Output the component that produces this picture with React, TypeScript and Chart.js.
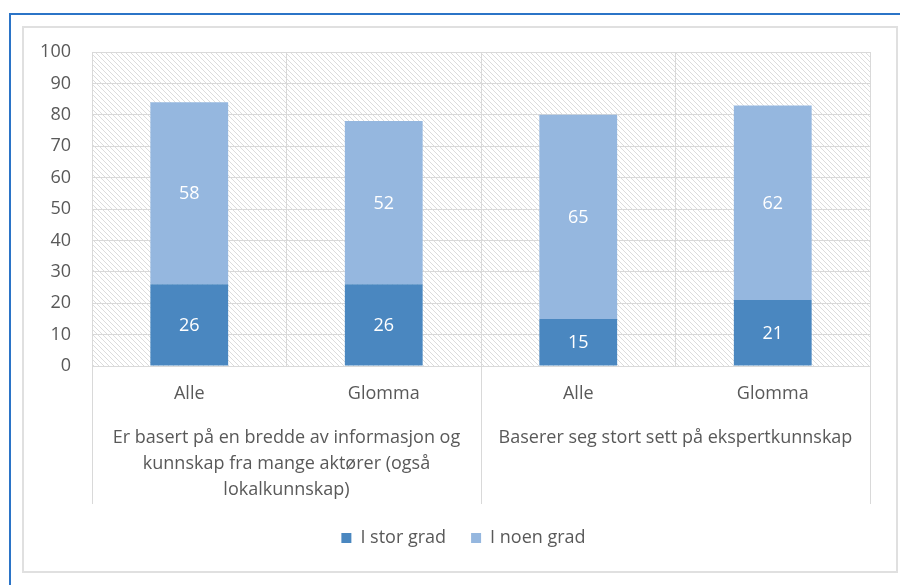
import { useEffect, useRef } from 'react';
import { Chart, registerables } from 'chart.js';
Chart.register(...registerables);

const categories = ['Alle', 'Glomma', 'Alle', 'Glomma'];
const groupLabels: (string | string[])[] = [
  ['Er basert på en bredde av informasjon og', 'kunnskap fra mange aktører (også', 'lokalkunnskap)'],
  'Baserer seg stort sett på ekspertkunnskap',
];
const seriesNames = ['I stor grad', 'I noen grad'];
const storGrad = [26, 26, 15, 21];
const noenGrad = [58, 52, 65, 62];
const yMin = 0;
const yMax = 100;
const yStep = 10;

const FONT = "'Open Sans', 'DejaVu Sans', sans-serif";
const FS = 18;
const TEXT = '#595959';
const GRID = '#d9d9d9';
const LEGEND_SHIFT = 17;

function makeHatch(ctx: CanvasRenderingContext2D) {
  const s = 5;
  const c = document.createElement('canvas');
  c.width = s;
  c.height = s;
  const g = c.getContext('2d')!;
  g.fillStyle = '#ffffff';
  g.fillRect(0, 0, s, s);
  g.strokeStyle = '#dcdcdc';
  g.lineWidth = 1;
  g.beginPath();
  g.moveTo(-1, -1);
  g.lineTo(s + 1, s + 1);
  g.moveTo(-1, s - 1);
  g.lineTo(1, s + 1);
  g.moveTo(s - 1, -1);
  g.lineTo(s + 1, 1);
  g.stroke();
  return ctx.createPattern(c, 'repeat');
}

const hatchPlugin = {
  id: 'hatchBg',
  beforeDraw(chart: any) {
    const { ctx, chartArea } = chart;
    const p = makeHatch(ctx);
    if (!p) return;
    ctx.save();
    ctx.fillStyle = p;
    ctx.fillRect(chartArea.left, chartArea.top, chartArea.right - chartArea.left, chartArea.bottom - chartArea.top);
    ctx.restore();
  },
};

const legendShiftPlugin = {
  id: 'legendShift',
  afterLayout(chart: any) {
    const lg = chart.legend;
    if (!lg) return;
    lg.left += LEGEND_SHIFT;
    lg.right += LEGEND_SHIFT;
  },
};

const separatorPlugin = {
  id: 'groupSep',
  afterDraw(chart: any) {
    const { ctx, chartArea, scales } = chart;
    const x = scales.x;
    const x2 = scales.x2;
    const mid = (x.getPixelForValue(1) + x.getPixelForValue(2)) / 2;
    const xs = [chartArea.left, mid, chartArea.right];
    ctx.save();
    ctx.strokeStyle = GRID;
    ctx.lineWidth = 1;
    ctx.beginPath();
    for (const px of xs) {
      const xx = Math.round(px) + 0.5;
      ctx.moveTo(xx, chartArea.bottom);
      ctx.lineTo(xx, x2.bottom);
    }
    ctx.stroke();
    ctx.restore();
  },
};

const valueLabelPlugin = {
  id: 'valueLabels',
  afterDatasetsDraw(chart: any) {
    const { ctx } = chart;
    ctx.save();
    ctx.fillStyle = '#ffffff';
    ctx.font = `${FS}px ${FONT}`;
    ctx.textAlign = 'center';
    ctx.textBaseline = 'middle';
    chart.data.datasets.forEach((ds: any, di: number) => {
      const meta = chart.getDatasetMeta(di);
      meta.data.forEach((el: any, i: number) => {
        const v = ds.data[i];
        ctx.fillText(String(v), el.x, (el.y + el.base) / 2 + 1);
      });
    });
    ctx.restore();
  },
};

export default function App() {
  const ref = useRef<HTMLCanvasElement>(null);
  useEffect(() => {
    if (!ref.current) return;
    const chart = new Chart(ref.current, {
      type: 'bar',
      data: {
        labels: categories,
        datasets: [
          { label: seriesNames[0], data: storGrad, backgroundColor: '#4A87C0', xAxisID: 'x' },
          { label: seriesNames[1], data: noenGrad, backgroundColor: '#95B7DF', xAxisID: 'x' },
        ],
      },
      options: {
        animation: false,
        responsive: false,
        maintainAspectRatio: false,
        layout: { padding: { left: 0, right: 30, top: 37, bottom: 15 } },
        datasets: { bar: { categoryPercentage: 1, barPercentage: 0.4 } },
        plugins: {
          legend: {
            position: 'bottom',
            labels: {
              boxWidth: 10,
              boxHeight: 10,
              padding: 25,
              color: TEXT,
              font: { family: FONT, size: FS },
            },
          },
          tooltip: { enabled: false },
        },
        scales: {
          x: {
            stacked: true,
            offset: true,
            grid: { offset: true, color: GRID, drawTicks: false },
            border: { display: false },
            ticks: {
              color: TEXT,
              font: { family: FONT, size: FS },
              padding: 17,
              maxRotation: 0,
              autoSkip: false,
            },
            afterFit(s: any) {
              s.height = 44;
            },
          },
          x2: {
            type: 'category',
            labels: groupLabels as any,
            position: 'bottom',
            offset: true,
            grid: { display: false, drawTicks: false },
            border: { display: false },
            ticks: {
              color: TEXT,
              font: { family: FONT, size: FS, lineHeight: 26 / FS },
              padding: 15,
              maxRotation: 0,
              autoSkip: false,
            },
            afterFit(s: any) {
              s.height = 94;
            },
          },
          y: {
            stacked: true,
            min: yMin,
            max: yMax,
            grid: { color: GRID, drawTicks: false },
            border: { display: false },
            ticks: {
              stepSize: yStep,
              color: TEXT,
              font: { family: FONT, size: FS },
              padding: 21,
            },
            afterFit(s: any) {
              s.width = 69;
            },
          },
        },
      },
      plugins: [hatchPlugin, legendShiftPlugin, separatorPlugin, valueLabelPlugin],
    } as any);
    return () => chart.destroy();
  }, []);

  return (
    <div style={{ position: 'fixed', left: 0, top: 0, width: 900, height: 585, background: '#fff', overflow: 'hidden' }}>
      <div
        style={{
          position: 'absolute',
          left: 9,
          top: 13,
          width: 950,
          height: 650,
          border: '2px solid #2b74c7',
          boxSizing: 'border-box',
        }}
      />
      <div
        style={{
          position: 'absolute',
          left: 22,
          top: 26,
          width: 876,
          height: 547,
          border: '2px solid #e0e0e0',
          boxSizing: 'border-box',
        }}
      />
      <canvas ref={ref} width={877} height={557} style={{ position: 'absolute', left: 23, top: 15, width: 877, height: 557 }} />
    </div>
  );
}
